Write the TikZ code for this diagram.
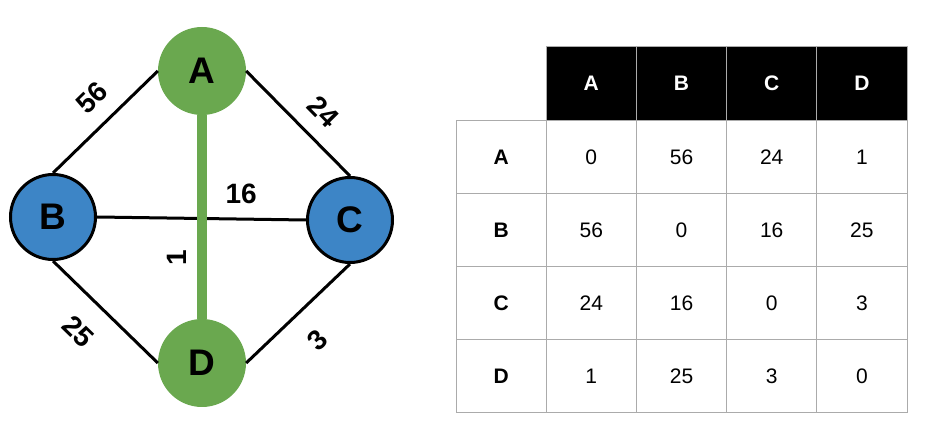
\documentclass[tikz,border=0pt]{standalone}
\usepackage{fontspec}
\setmainfont{Liberation Sans}
\usetikzlibrary{positioning}
\definecolor{gGreen}{HTML}{6AA84F}
\definecolor{gBlue}{HTML}{3D85C6}
\definecolor{gridGray}{HTML}{ABABAB}

\begin{document}
\begin{tikzpicture}[x=1pt,y=-1pt,vert/.style={circle,minimum size=88pt,inner sep=0pt,font=\fontsize{37}{40}\selectfont\bfseries},edge/.style={line width=3pt},wt/.style={inner sep=0pt,font=\fontsize{28}{30}\selectfont\bfseries},cell/.style={draw=gridGray,line width=1pt,minimum width=90.2pt,minimum height=73.2pt,inner sep=0pt,font=\fontsize{21}{24}\selectfont}]
    \useasboundingbox (0,0) rectangle (943,446);
    % graph
    \node[vert,fill=gGreen] (a) at (202,71) {A};
    \node[vert,fill=gBlue,draw=black,line width=3pt,minimum size=85pt] (b) at (53,217) {B};
    \node[vert,fill=gBlue,draw=black,line width=3pt,minimum size=85pt] (c) at (350,220) {C};
    \node[vert,fill=gGreen] (d) at (202,363) {D};
    \draw[edge] (b.north)--node[wt,sloped,pos=0.55,above=15pt]{56}(a.west);
    \draw[edge] (a.east)--node[wt,sloped,pos=0.56,above=15pt]{24}(c.north);
    \draw[edge] (b.south)--node[wt,sloped,pos=0.46,below=22pt]{25}(d.west);
    \draw[edge] (d.east)--node[wt,sloped,pos=0.47,below=21pt]{3}(c.south);
    \draw[edge] (b.east)--node[wt,pos=0.69,above=14pt]{16}(c.west);
    \draw[line width=10pt,gGreen] (a.south)--node[wt,text=black,pos=0.7,xshift=-25pt,rotate=90]{1}(d.north);
    % distance table
    \foreach \h [count=\c] in {A,B,C,D}
      \node[cell,fill=black,text=white,font=\fontsize{21}{24}\selectfont\bfseries] (h\c) at (501.1+90.2*\c,83.6) {\h};
    \foreach \r/\vals [count=\i] in {A/{0,56,24,1},B/{56,0,16,25},C/{24,16,0,3},D/{1,25,3,0}} {
      \node[cell,font=\fontsize{21}{24}\selectfont\bfseries] (r\i) at (501.1,83.6+73.2*\i) {\r};
      \foreach \v [count=\c] in \vals
        \node[cell] (m\i\c) at (501.1+90.2*\c,83.6+73.2*\i) {\v};
    }
  \end{tikzpicture}
\end{document}
